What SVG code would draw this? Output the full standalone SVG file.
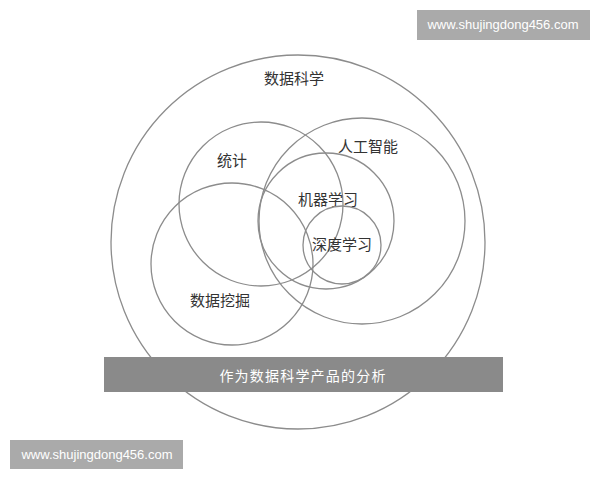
<svg xmlns="http://www.w3.org/2000/svg" width="600" height="480" viewBox="0 0 600 480">
<style>
.c{fill:none;stroke:#8c8c8c;stroke-width:1.3}
.l{font-family:"Liberation Serif","Noto Sans CJK SC",serif;font-size:15px;fill:#333;text-anchor:middle}
.wm{fill:#aaaaaa}
.wt{font-family:"Liberation Sans","DejaVu Sans",sans-serif;font-size:13px;fill:#ffffff;text-anchor:middle}
</style>
<rect width="600" height="480" fill="#ffffff"/>
<g id="connectors"></g>
<g id="data-science"><circle class="c" cx="298" cy="242" r="187"/><text class="l" x="294" y="84">数据科学</text></g>
<g id="statistics"><circle class="c" cx="261" cy="204" r="82"/><text class="l" x="232" y="166">统计</text></g>
<g id="data-mining"><circle class="c" cx="232" cy="264" r="81"/><text class="l" x="220" y="306">数据挖掘</text></g>
<g id="ai"><circle class="c" cx="362" cy="221" r="103"/><text class="l" x="368" y="152">人工智能</text></g>
<g id="ml"><circle class="c" cx="326" cy="221" r="68"/><text class="l" x="328" y="205">机器学习</text></g>
<g id="dl"><circle class="c" cx="342" cy="245" r="39"/><text class="l" x="342" y="250">深度学习</text></g>
<g id="banner"><rect x="104" y="357" width="399" height="35" fill="#8a8a8a"/><text x="303" y="381" font-family="Liberation Sans,'Noto Sans CJK SC',sans-serif" font-size="14" letter-spacing="1.2" fill="#ffffff" text-anchor="middle">作为数据科学产品的分析</text></g>
<g id="watermark-top"><rect class="wm" x="417" y="10" width="173" height="30"/><text class="wt" x="503" y="29">www.shujingdong456.com</text></g>
<g id="watermark-bottom"><rect class="wm" x="10" y="440" width="173" height="29"/><text class="wt" x="97" y="459">www.shujingdong456.com</text></g>
</svg>
